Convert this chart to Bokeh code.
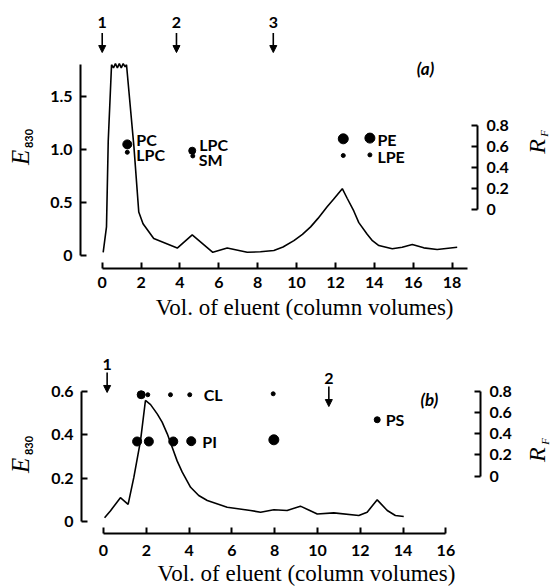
import math
from bokeh.plotting import figure
from bokeh.layouts import column
from bokeh.models import (Range1d, LinearAxis, FixedTicker, Label, Arrow,
                          NormalHead, ColumnDataSource)
from bokeh.embed import file_html
from bokeh.resources import INLINE
from bokeh.core.properties import value

# ---------------- data: panel (a) ----------------
a_vol = [0.05, 0.22, 0.31, 0.48, 0.58, 0.68, 0.78, 0.88, 0.98, 1.08, 1.18, 1.25,
         1.63, 1.88, 2.10, 2.65, 3.86, 4.63, 5.69, 6.43, 7.46, 8.14, 8.83, 9.30,
         9.86, 10.30, 10.72, 11.10, 11.57, 11.90, 12.35, 12.60, 12.94, 13.20,
         13.63, 13.90, 14.23, 14.92, 15.43, 15.95, 16.54, 17.23, 18.26]
a_e830 = [0.03, 0.27, 1.08, 1.80, 1.77, 1.81, 1.77, 1.81, 1.77, 1.81, 1.78, 1.80,
          1.03, 0.41, 0.30, 0.16, 0.07, 0.195, 0.03, 0.07, 0.03, 0.035, 0.047, 0.08,
          0.14, 0.20, 0.27, 0.35, 0.46, 0.53, 0.63, 0.54, 0.42, 0.31,
          0.20, 0.14, 0.094, 0.063, 0.078, 0.104, 0.072, 0.057, 0.078]
a_spot_x = [1.29, 4.63, 12.40, 13.77, 1.29, 4.66, 12.40, 13.77]
a_spot_rf = [0.62, 0.56, 0.673, 0.68, 0.545, 0.51, 0.514, 0.52]
a_lab_text = ["PC", "LPC", "LPC", "SM", "PE", "LPE"]
a_lab_x = [1.29, 1.29, 4.63, 4.66, 13.77, 13.77]
a_lab_rf = [0.62, 0.545, 0.56, 0.51, 0.68, 0.52]
a_arrow_x = [0.0, 3.82, 8.8]
a_arrow_text = ["1", "2", "3"]
a_xticks = [0, 2, 4, 6, 8, 10, 12, 14, 16, 18]
a_yticks = [0, 0.5, 1.0, 1.5]
a_ytick_labels = ["0", "0.5", "1.0", "1.5"]

# ---------------- data: panel (b) ----------------
b_vol = [0.05, 0.33, 0.79, 1.15, 1.42, 1.73, 1.96, 2.20, 2.51, 2.74, 2.98, 3.21,
         3.44, 3.68, 4.07, 4.45, 4.85, 5.78, 6.87, 7.34, 7.96, 8.58, 9.20, 9.99,
         10.76, 11.93, 12.32, 12.79, 13.26, 13.64, 14.03]
b_e830 = [0.017, 0.05, 0.11, 0.079, 0.205, 0.374, 0.559, 0.54, 0.497, 0.459, 0.405,
          0.343, 0.28, 0.228, 0.158, 0.12, 0.097, 0.066, 0.051, 0.043, 0.054, 0.051,
          0.071, 0.035, 0.04, 0.028, 0.043, 0.10, 0.051, 0.028, 0.023]
b_spot_x = [1.76, 2.07, 3.13, 4.03, 7.93, 1.57, 2.12, 3.26, 4.10, 7.96, 12.79]
b_spot_rf = [0.768, 0.768, 0.768, 0.768, 0.777, 0.327, 0.327, 0.327, 0.33, 0.343, 0.532]
b_lab_text = ["CL", "PI", "PS"]
b_lab_x = [4.03, 4.10, 12.79]
b_lab_rf = [0.768, 0.33, 0.532]
b_arrow_x = [0.17, 10.53]
b_arrow_text = ["1", "2"]
b_xticks = [0, 2, 4, 6, 8, 10, 12, 14, 16]
b_yticks = [0, 0.2, 0.4, 0.6]
b_ytick_labels = ["0", "0.2", "0.4", "0.6"]

rf_ticks = [0, 0.2, 0.4, 0.6, 0.8]
rf_tick_labels = ["0", "0.2", "0.4", "0.6", "0.8"]
xlabel = "Vol. of eluent (column volumes)"

SANS = "Lato"
SERIF = "Liberation Serif"

# styles (not data)
a_spot_size = [9, 7, 10, 10, 4, 4, 4, 4]
a_lab_dx = [9, 9, 7, 6, 7.5, 7.5]
a_lab_dy = [-4.5, 2, -6, 4, 1, 1.5]
b_spot_size = [8, 4, 4, 4, 4, 9, 9, 9, 9, 10, 6]
b_lab_dx = [14, 11, 8.5]
b_lab_dy = [0, 0, 0]

W = 550


def style_axis(ax, standoff):
    ax.axis_line_width = 2
    ax.axis_line_color = "black"
    ax.major_tick_in = 6
    ax.major_tick_out = 0
    ax.major_tick_line_width = 2
    ax.minor_tick_line_color = None
    ax.major_label_text_font = SANS
    ax.major_label_text_font_style = "bold"
    ax.major_label_text_font_size = "16px"
    ax.major_label_text_color = "black"
    ax.major_label_standoff = standoff


def panel(H, xr, yr, rfr, loc, xbounds, ybounds, xticks, yticks, ylabels, xstand):
    """Frame covers the whole figure; the axes sit at fixed positions inside it."""
    p = figure(width=W, height=H, output_backend="svg", toolbar_location=None,
               x_range=Range1d(*xr), y_range=Range1d(*yr), min_border=0,
               x_axis_location=None, y_axis_location=None)
    p.outline_line_color = None
    p.grid.visible = False
    p.extra_y_ranges = {"rf": Range1d(*rfr)}
    x_at, left_at, right_at = loc
    xa = LinearAxis(ticker=FixedTicker(ticks=xticks), bounds=xbounds, fixed_location=x_at)
    style_axis(xa, xstand)
    p.add_layout(xa, "below")
    ya = LinearAxis(ticker=FixedTicker(ticks=yticks), bounds=ybounds, fixed_location=left_at,
                    major_label_overrides={float(t): l for t, l in zip(yticks, ylabels)})
    style_axis(ya, 8)
    p.add_layout(ya, "left")
    ra = LinearAxis(y_range_name="rf", ticker=FixedTicker(ticks=rf_ticks), bounds=(0, 0.8),
                    fixed_location=right_at,
                    major_label_overrides={float(t): l for t, l in zip(rf_ticks, rf_tick_labels)})
    style_axis(ra, 9)
    p.add_layout(ra, "right")
    return p


def add_common(p, vol, e, sx, srf, ssize, lt, lx, lrf, ldx, ldy,
               ax, atext, a_tip, a_tail, a_lab):
    p.line(vol, e, line_color="black", line_width=1.6)
    p.scatter(sx, srf, size=ssize, color="black", y_range_name="rf")
    src = ColumnDataSource(dict(x=lx, y=lrf, t=lt, dx=ldx, dy=ldy))
    p.text(x="x", y="y", text="t", x_offset="dx", y_offset="dy", source=src,
           y_range_name="rf", text_font=value(SANS), text_font_style="bold",
           text_font_size="16px", text_align="left", text_baseline="middle",
           text_color="black")
    asrc = ColumnDataSource(dict(x=ax, y0=a_tail, y1=a_tip, yl=a_lab, t=atext))
    p.add_layout(Arrow(source=asrc, x_start="x", y_start="y0", x_end="x", y_end="y1",
                       line_width=1.6, line_color="black",
                       end=NormalHead(size=7, fill_color="black", line_color="black")))
    p.text(x="x", y="yl", text="t", source=asrc, text_font=value(SANS),
           text_font_style="bold", text_font_size="16px", text_align="center",
           text_baseline="middle", text_color="black")


def titles(p, xlab, e_pos, sub_pos, r_pos, f_pos, tag, tag_pos):
    p.text(x=[xlab[0]], y=[xlab[1]], text=[xlabel], text_font=value(SERIF),
           text_font_size="23px", text_align="center", text_baseline="middle",
           text_color="black")
    for txt, pos, font, style, size in [("E", e_pos, SERIF, "italic", "25px"),
                                        ("830", sub_pos, SANS, "bold", "11px"),
                                        ("R", r_pos, SERIF, "italic", "24px"),
                                        ("F", f_pos, SERIF, "italic", "11px")]:
        p.text(x=[pos[0]], y=[pos[1]], text=[txt], angle=math.pi / 2,
               text_font=value(font), text_font_style=style, text_font_size=size,
               text_align="center", text_baseline="middle", text_color="black")
    p.add_layout(Label(x=tag_pos[0], y=tag_pos[1], text=tag, text_font=SANS,
                       text_font_style="bold italic", text_font_size="17px",
                       text_align="center", text_baseline="middle", text_color="black"))


# ---------- panel (a) ----------
pa = panel(328, (-5.232, 23.06), (-0.689, 2.406), (-1.133, 1.990),
           (-0.1226, -1.116, 19.305), (0, 18.8), (0, 1.8),
           a_xticks, a_yticks, a_ytick_labels, 9)
add_common(pa, a_vol, a_e830, a_spot_x, a_spot_rf, a_spot_size,
           a_lab_text, a_lab_x, a_lab_rf, a_lab_dx, a_lab_dy,
           a_arrow_x, a_arrow_text, [1.915] * 3, [2.10] * 3, [2.20] * 3)
titles(pa, (10.41, -0.4906), (-4.228, 0.925), (-3.765, 1.104),
       (22.39, 1.028), (22.75, 1.151), "(a)", (16.63, 1.764))

# ---------- panel (b) ----------
pb = panel(258, (-4.813, 20.888), (-0.3002, 0.8915), (-1.041, 1.393),
           (-0.0554, -1.028, 17.617), (0, 16), (0, 0.6),
           b_xticks, b_yticks, b_ytick_labels, 11)
add_common(pb, b_vol, b_e830, b_spot_x, b_spot_rf, b_spot_size,
           b_lab_text, b_lab_x, b_lab_rf, b_lab_dx, b_lab_dy,
           b_arrow_x, b_arrow_text, [0.596, 0.531], [0.688, 0.624], [0.725, 0.66])
titles(pb, (9.486, -0.2402), (-3.879, 0.259), (-3.458, 0.351),
       (20.28, 0.309), (20.61, 0.3695), "(b)", (15.23, 0.5635))

layout = column(pa, pb, spacing=0)
open("out.html", "w").write(file_html(layout, INLINE))
